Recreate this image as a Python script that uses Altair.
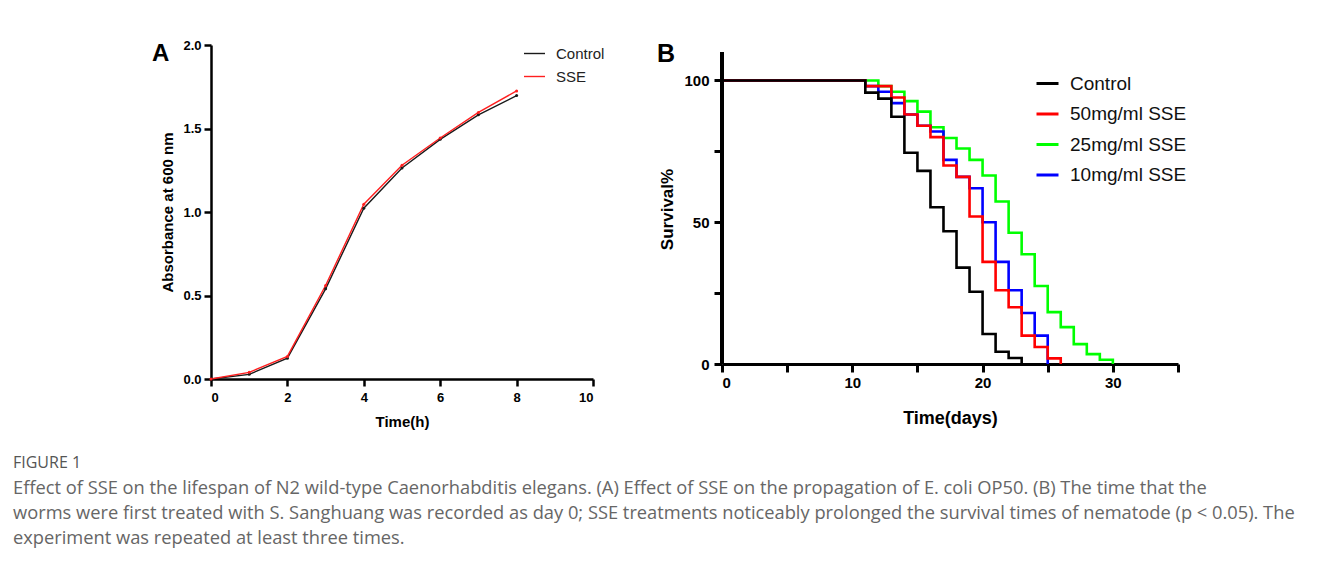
import altair as alt
import pandas as pd

# ---------------- data ----------------
hours = [0, 1, 2, 3, 4, 5, 6, 7, 8]
abs_control = [0.0, 0.028, 0.125, 0.54, 1.023, 1.264, 1.435, 1.582, 1.697]
abs_sse = [0.0, 0.04, 0.135, 0.56, 1.047, 1.28, 1.443, 1.596, 1.725]

ctrl_days = [0, 11, 12, 13, 14, 15, 16, 17, 18, 19, 20, 21, 22, 23]
ctrl_surv = [100, 95.7, 93.6, 87.2, 74.5, 68.1, 55.3, 46.8, 34.0, 25.5, 10.6, 4.3, 2.1, 0]
s50_days = [0, 11, 13, 14, 15, 16, 17, 18, 19, 20, 21, 22, 23, 24, 25, 26]
s50_surv = [100, 98, 94, 88, 84, 80, 70, 66, 52, 36, 26, 20, 10, 6, 2, 0]
s25_days = [0, 12, 13, 14, 15, 16, 17, 18, 19, 20, 21, 22, 23, 24, 25, 26, 27, 28, 29, 30]
s25_surv = [100, 98, 96, 92.7, 89, 83.5, 79.7, 76, 72, 66.5, 57.3, 46.3, 38.7, 27.5, 18.3, 13, 7, 3.5, 1.5, 0]
s10_days = [0, 11, 12, 13, 14, 15, 16, 17, 18, 19, 20, 21, 22, 23, 24, 25]
s10_surv = [100, 98, 96, 92, 88, 84, 82, 72, 66, 62, 50, 36, 26, 18, 10, 0]

groupsA = ["Control", "SSE"]
colorsA = ["#1a1a1a", "#ff1f1f"]
groupsB = ["Control", "50mg/ml SSE", "25mg/ml SSE", "10mg/ml SSE"]
colorsB = ["#000000", "#ff0000", "#00ff00", "#0000ff"]

caption_title = "FIGURE 1"
caption_lines = [
    "Effect of SSE on the lifespan of N2 wild-type Caenorhabditis elegans. (A) Effect of SSE on the propagation of E. coli OP50. (B) The time that the",
    "worms were first treated with S. Sanghuang was recorded as day 0; SSE treatments noticeably prolonged the survival times of nematode (p < 0.05). The",
    "experiment was repeated at least three times.",
]

FONT = "Liberation Sans"

# ---------------- panel A ----------------
dfA = pd.DataFrame({
    "t": hours + hours,
    "v": abs_control + abs_sse,
    "gA": [groupsA[0]] * len(hours) + [groupsA[1]] * len(hours),
})

axA = dict(domainColor="black", domainWidth=2.5, tickColor="black", tickWidth=2.5, tickSize=7,
           labelFont=FONT, labelFontWeight="bold", labelFontSize=13, labelColor="black",
           titleFont=FONT, titleFontWeight="bold", titleFontSize=15, titleColor="black", grid=False)

panelA = alt.Chart(dfA).mark_line(strokeWidth=1.4, point=alt.OverlayMarkDef(filled=True, size=9)).encode(
    x=alt.X("t:Q", scale=alt.Scale(domain=[0, 10], nice=False),
            axis=alt.Axis(values=[0, 2, 4, 6, 8, 10], title="Time(h)", labelPadding=5, titlePadding=10, **axA)),
    y=alt.Y("v:Q", scale=alt.Scale(domain=[0, 2], nice=False),
            axis=alt.Axis(values=[0, 0.5, 1, 1.5, 2], format=".1f", title="Absorbance at 600 nm",
                          labelPadding=3, titlePadding=7, **axA)),
    color=alt.Color("gA:N", scale=alt.Scale(domain=groupsA, range=colorsA),
                    legend=alt.Legend(title=None, orient="none", legendX=312, legendY=-3,
                                      symbolType="stroke", symbolSize=441, symbolStrokeWidth=1.4,
                                      labelFont=FONT, labelFontSize=15, labelColor="#222",
                                      labelOffset=10, rowPadding=3)),
).properties(
    width=382, height=334,
    title=alt.TitleParams(text="A", anchor="start", frame="group", orient="top", offset=0,
                          dx=-59, dy=46, baseline="alphabetic", font=FONT, fontSize=24,
                          fontWeight="bold", color="black"),
)

# ---------------- panel B ----------------
rows = []
for name, days, surv in [(groupsB[0], ctrl_days, ctrl_surv), (groupsB[1], s50_days, s50_surv),
                         (groupsB[2], s25_days, s25_surv), (groupsB[3], s10_days, s10_surv)]:
    for d, s in zip(days, surv):
        rows.append({"t": d, "s": s, "gB": name})
dfB = pd.DataFrame(rows)

axB = dict(domainColor="black", domainWidth=3, tickColor="black", tickWidth=3, tickSize=8,
           labelFont=FONT, labelFontWeight="bold", labelFontSize=15, labelColor="black",
           titleFont=FONT, titleFontWeight="bold", titleColor="black", grid=False)

xB = alt.X("t:Q", scale=alt.Scale(domain=[0, 35], nice=False),
           axis=alt.Axis(values=[0, 5, 10, 15, 20, 25, 30, 35],
                         labelExpr="datum.value % 10 == 0 && datum.value < 35 ? datum.label : ''",
                         title="Time(days)", titleFontSize=18, labelPadding=3, titlePadding=19, **axB))
yB = alt.Y("s:Q", scale=alt.Scale(domain=[0, 112.5], nice=False),
           axis=alt.Axis(values=[0, 25, 50, 75, 100],
                         labelExpr="datum.value % 50 == 0 ? datum.label : ''",
                         domain=False, title="Survival%", titleFontSize=17, labelPadding=5,
                         titlePadding=7, titleY=164, **axB))
colorB = alt.Color("gB:N", scale=alt.Scale(domain=groupsB, range=colorsB),
                   legend=alt.Legend(title=None, orient="none", legendX=313, legendY=26,
                                     symbolType="stroke", symbolSize=484, symbolStrokeWidth=3,
                                     labelFont=FONT, labelFontSize=19, labelColor="#111",
                                     labelOffset=10, rowPadding=7.5))

layersB = []
for name in [groupsB[2], groupsB[3], groupsB[1], groupsB[0]]:
    layersB.append(
        alt.Chart(dfB).transform_filter(alt.datum.gB == name)
        .mark_line(interpolate="step-after", strokeWidth=2.6)
        .encode(x=xB, y=yB, color=colorB)
    )
yrule = alt.Chart(dfB).mark_rule(color="black", strokeWidth=3).encode(
    x=alt.datum(0), y=alt.datum(0), y2=alt.datum(110)
)

panelB = alt.layer(*layersB, yrule).properties(
    width=456, height=319,
    title=alt.TitleParams(text="B", anchor="start", frame="group", orient="top", offset=0,
                          dx=-65, dy=42, baseline="alphabetic", font=FONT, fontSize=25,
                          fontWeight="bold", color="black"),
)

chart = alt.hconcat(panelA, panelB, spacing=129, bounds="flush").resolve_scale(
    color="independent"
).resolve_legend(color="independent").properties(
    title=alt.TitleParams(text=caption_title, subtitle=caption_lines, orient="bottom", anchor="start",
                          frame="bounds", dx=-139, offset=25.5, font="Open Sans", fontSize=16,
                          fontWeight=500, color="#555555", subtitleFont="Open Sans",
                          subtitleFontSize=18.3, subtitleColor="#666666", subtitleLineHeight=25,
                          subtitlePadding=9),
    padding={"left": 5, "top": 31, "right": 0, "bottom": 5},
).configure_view(stroke=None)

chart.save("out.html", embed_options={"renderer": "svg", "actions": False})
